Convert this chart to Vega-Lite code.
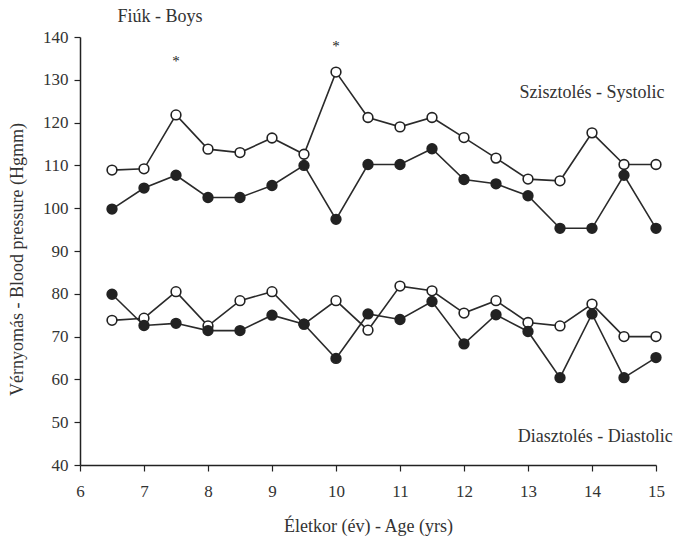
{
  "$schema": "https://vega.github.io/schema/vega-lite/v6.json",
  "autosize": "none",
  "width": 576,
  "height": 428,
  "padding": {"left": 80, "top": 37, "right": 18, "bottom": 75},
  "background": "white",
  "config": {
    "view": {"stroke": null},
    "font": "Liberation Serif",
    "axis": {"grid": false, "domainColor": "#222", "tickColor": "#222", "labelColor": "#333", "titleColor": "#333", "labelFont": "Liberation Serif", "titleFont": "Liberation Serif", "labelFontSize": 17, "titleFontSize": 18, "titleFontWeight": "normal", "domainWidth": 1.5, "tickWidth": 1.2, "titleLimit": 600}
  },
  "datasets": {
    "bp": [
      {"age": 6.5, "value": 108.9, "series": "sys_open", "kind": "open"},
      {"age": 7, "value": 109.2, "series": "sys_open", "kind": "open"},
      {"age": 7.5, "value": 121.8, "series": "sys_open", "kind": "open"},
      {"age": 8, "value": 113.8, "series": "sys_open", "kind": "open"},
      {"age": 8.5, "value": 113.0, "series": "sys_open", "kind": "open"},
      {"age": 9, "value": 116.4, "series": "sys_open", "kind": "open"},
      {"age": 9.5, "value": 112.6, "series": "sys_open", "kind": "open"},
      {"age": 10, "value": 131.8, "series": "sys_open", "kind": "open"},
      {"age": 10.5, "value": 121.2, "series": "sys_open", "kind": "open"},
      {"age": 11, "value": 119.0, "series": "sys_open", "kind": "open"},
      {"age": 11.5, "value": 121.2, "series": "sys_open", "kind": "open"},
      {"age": 12, "value": 116.5, "series": "sys_open", "kind": "open"},
      {"age": 12.5, "value": 111.7, "series": "sys_open", "kind": "open"},
      {"age": 13, "value": 106.8, "series": "sys_open", "kind": "open"},
      {"age": 13.5, "value": 106.4, "series": "sys_open", "kind": "open"},
      {"age": 14, "value": 117.6, "series": "sys_open", "kind": "open"},
      {"age": 14.5, "value": 110.2, "series": "sys_open", "kind": "open"},
      {"age": 15, "value": 110.2, "series": "sys_open", "kind": "open"},

      {"age": 6.5, "value": 99.8, "series": "sys_filled", "kind": "filled"},
      {"age": 7, "value": 104.7, "series": "sys_filled", "kind": "filled"},
      {"age": 7.5, "value": 107.7, "series": "sys_filled", "kind": "filled"},
      {"age": 8, "value": 102.5, "series": "sys_filled", "kind": "filled"},
      {"age": 8.5, "value": 102.5, "series": "sys_filled", "kind": "filled"},
      {"age": 9, "value": 105.3, "series": "sys_filled", "kind": "filled"},
      {"age": 9.5, "value": 110.0, "series": "sys_filled", "kind": "filled"},
      {"age": 10, "value": 97.4, "series": "sys_filled", "kind": "filled"},
      {"age": 10.5, "value": 110.2, "series": "sys_filled", "kind": "filled"},
      {"age": 11, "value": 110.2, "series": "sys_filled", "kind": "filled"},
      {"age": 11.5, "value": 113.9, "series": "sys_filled", "kind": "filled"},
      {"age": 12, "value": 106.7, "series": "sys_filled", "kind": "filled"},
      {"age": 12.5, "value": 105.7, "series": "sys_filled", "kind": "filled"},
      {"age": 13, "value": 102.9, "series": "sys_filled", "kind": "filled"},
      {"age": 13.5, "value": 95.3, "series": "sys_filled", "kind": "filled"},
      {"age": 14, "value": 95.3, "series": "sys_filled", "kind": "filled"},
      {"age": 14.5, "value": 107.7, "series": "sys_filled", "kind": "filled"},
      {"age": 15, "value": 95.3, "series": "sys_filled", "kind": "filled"},

      {"age": 6.5, "value": 73.8, "series": "dia_open", "kind": "open"},
      {"age": 7, "value": 74.3, "series": "dia_open", "kind": "open"},
      {"age": 7.5, "value": 80.5, "series": "dia_open", "kind": "open"},
      {"age": 8, "value": 72.5, "series": "dia_open", "kind": "open"},
      {"age": 8.5, "value": 78.4, "series": "dia_open", "kind": "open"},
      {"age": 9, "value": 80.5, "series": "dia_open", "kind": "open"},
      {"age": 9.5, "value": 72.9, "series": "dia_open", "kind": "open"},
      {"age": 10, "value": 78.4, "series": "dia_open", "kind": "open"},
      {"age": 10.5, "value": 71.5, "series": "dia_open", "kind": "open"},
      {"age": 11, "value": 81.8, "series": "dia_open", "kind": "open"},
      {"age": 11.5, "value": 80.7, "series": "dia_open", "kind": "open"},
      {"age": 12, "value": 75.5, "series": "dia_open", "kind": "open"},
      {"age": 12.5, "value": 78.4, "series": "dia_open", "kind": "open"},
      {"age": 13, "value": 73.3, "series": "dia_open", "kind": "open"},
      {"age": 13.5, "value": 72.5, "series": "dia_open", "kind": "open"},
      {"age": 14, "value": 77.6, "series": "dia_open", "kind": "open"},
      {"age": 14.5, "value": 70.0, "series": "dia_open", "kind": "open"},
      {"age": 15, "value": 70.0, "series": "dia_open", "kind": "open"},

      {"age": 6.5, "value": 79.9, "series": "dia_filled", "kind": "filled"},
      {"age": 7, "value": 72.6, "series": "dia_filled", "kind": "filled"},
      {"age": 7.5, "value": 73.1, "series": "dia_filled", "kind": "filled"},
      {"age": 8, "value": 71.4, "series": "dia_filled", "kind": "filled"},
      {"age": 8.5, "value": 71.4, "series": "dia_filled", "kind": "filled"},
      {"age": 9, "value": 75.0, "series": "dia_filled", "kind": "filled"},
      {"age": 9.5, "value": 72.9, "series": "dia_filled", "kind": "filled"},
      {"age": 10, "value": 64.9, "series": "dia_filled", "kind": "filled"},
      {"age": 10.5, "value": 75.3, "series": "dia_filled", "kind": "filled"},
      {"age": 11, "value": 74.0, "series": "dia_filled", "kind": "filled"},
      {"age": 11.5, "value": 78.2, "series": "dia_filled", "kind": "filled"},
      {"age": 12, "value": 68.3, "series": "dia_filled", "kind": "filled"},
      {"age": 12.5, "value": 75.1, "series": "dia_filled", "kind": "filled"},
      {"age": 13, "value": 71.2, "series": "dia_filled", "kind": "filled"},
      {"age": 13.5, "value": 60.4, "series": "dia_filled", "kind": "filled"},
      {"age": 14, "value": 75.3, "series": "dia_filled", "kind": "filled"},
      {"age": 14.5, "value": 60.4, "series": "dia_filled", "kind": "filled"},
      {"age": 15, "value": 65.1, "series": "dia_filled", "kind": "filled"}
    ],
    "notes": [
      {"age": 7.25, "value": 144.6, "text": "Fiúk - Boys"},
      {"age": 14.0, "value": 126.9, "text": "Szisztolés - Systolic"},
      {"age": 14.05, "value": 46.6, "text": "Diasztolés - Diastolic"}
    ],
    "stars": [
      {"age": 7.5, "value": 134.3, "text": "*"},
      {"age": 10, "value": 137.9, "text": "*"}
    ]
  },
  "layer": [
    {
      "data": {"name": "bp"},
      "mark": {"type": "line", "color": "#2a2a2a", "strokeWidth": 1.6},
      "encoding": {
        "x": {"field": "age", "type": "quantitative", "scale": {"domain": [6, 15], "nice": false, "zero": false},
          "axis": {"title": "Életkor (év) - Age (yrs)", "values": [6, 6.5, 7, 7.5, 8, 8.5, 9, 9.5, 10, 10.5, 11, 11.5, 12, 12.5, 13, 13.5, 14, 14.5, 15], "labelExpr": "datum.value % 1 == 0 ? format(datum.value, 'd') : ''", "tickSize": 6, "labelPadding": 12, "titlePadding": 18, "labelFlush": false}},
        "y": {"field": "value", "type": "quantitative", "scale": {"domain": [40, 140], "nice": false, "zero": false},
          "axis": {"title": "Vérnyomás - Blood pressure (Hgmm)", "values": [40, 50, 60, 70, 80, 90, 100, 110, 120, 130, 140], "tickSize": 6, "labelPadding": 6, "titlePadding": 16, "titleY": 222, "labelFlush": false}},
        "detail": {"field": "series"}
      }
    },
    {
      "data": {"name": "bp"},
      "mark": {"type": "point", "shape": "circle", "size": 95, "stroke": "#222", "strokeWidth": 1.6, "opacity": 1},
      "encoding": {
        "x": {"field": "age", "type": "quantitative"},
        "y": {"field": "value", "type": "quantitative"},
        "fill": {"field": "kind", "type": "nominal", "scale": {"domain": ["open", "filled"], "range": ["white", "#222"]}, "legend": null},
        "order": {"field": "kind", "sort": "descending"}
      }
    },
    {
      "data": {"name": "notes"},
      "mark": {"type": "text", "font": "Liberation Serif", "fontSize": 18, "fill": "#333", "baseline": "middle", "align": "center"},
      "encoding": {
        "x": {"field": "age", "type": "quantitative"},
        "y": {"field": "value", "type": "quantitative"},
        "text": {"field": "text"}
      }
    },
    {
      "data": {"name": "stars"},
      "mark": {"type": "text", "font": "Liberation Serif", "fontSize": 15, "fill": "#222", "baseline": "middle", "align": "center"},
      "encoding": {
        "x": {"field": "age", "type": "quantitative"},
        "y": {"field": "value", "type": "quantitative"},
        "text": {"field": "text"}
      }
    }
  ]
}
